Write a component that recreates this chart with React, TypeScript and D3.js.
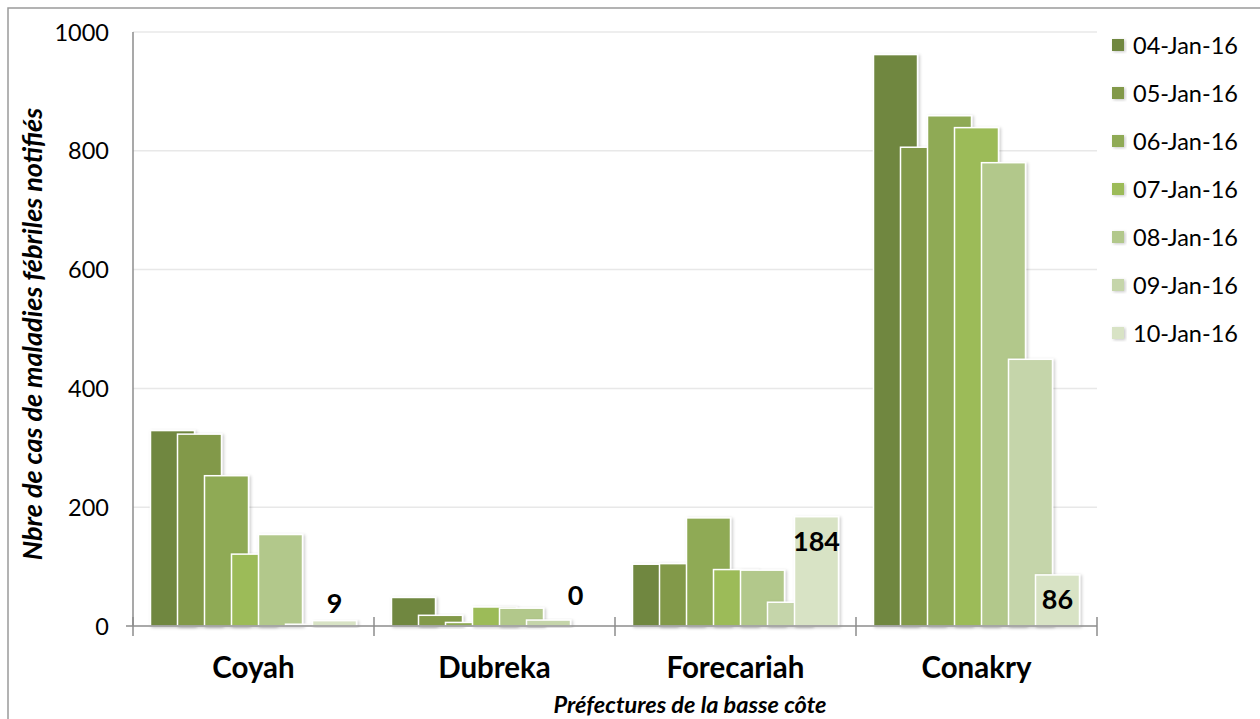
import React from "react";
import * as d3 from "d3";

const categories = ["Coyah", "Dubreka", "Forecariah", "Conakry"];
const seriesNames = ["04-Jan-16", "05-Jan-16", "06-Jan-16", "07-Jan-16", "08-Jan-16", "09-Jan-16", "10-Jan-16"];
const s04 = [329, 48, 104, 962];
const s05 = [323, 18, 105, 806];
const s06 = [253, 6, 182, 859];
const s07 = [121, 32, 95, 839];
const s08 = [154, 30, 94, 780];
const s09 = [3, 10, 40, 449];
const s10 = [9, 0, 184, 86];
const seriesValues = [s04, s05, s06, s07, s08, s09, s10];
const colors = ["#6f873f", "#82994a", "#8faa54", "#9cbb59", "#b2c88b", "#c5d5aa", "#d8e3c5"];
const yTicks = [0, 200, 400, 600, 800, 1000];
const labeledSeries = 6;

const FONT = "Lato, 'Open Sans', sans-serif";

export default function App() {
  const W = 1260, H = 719;
  const left = 133, right = 1097, top = 32, bottom = 626;
  const x = d3.scaleBand<string>().domain(categories).range([left, right]).paddingInner(0).paddingOuter(0);
  const y = d3.scaleLinear().domain([0, 1000]).range([bottom, top]);
  const bw = x.bandwidth();
  const groupPad = 17.5;
  const barW = 44;
  const step = (bw - 2 * groupPad - barW) / (seriesNames.length - 1);
  const bars: JSX.Element[] = [];
  const labels: JSX.Element[] = [];
  categories.forEach((c, ci) => {
    const x0 = (x(c) as number) + groupPad;
    seriesValues.forEach((vals, si) => {
      const v = vals[ci];
      const bx = x0 + si * step;
      const by = y(v);
      bars.push(
        <rect key={`b${ci}-${si}`} x={bx} y={by} width={barW} height={Math.max(0, y(0) - by)}
          fill={colors[si]} stroke="#ffffff" strokeWidth={1.5} filter="url(#sh)" />
      );
      if (si === labeledSeries) {
        const inside = y(0) - by > 45;
        const ly = inside ? by + 34 : y(0) - (v === 0 ? 21 : 13);
        labels.push(
          <text key={`l${ci}`} x={bx + barW / 2} y={ly} textAnchor="middle" fontFamily={FONT}
            fontWeight={700} fontSize={27} fill="#000">{v}</text>
        );
      }
    });
  });

  return (
    <svg width={W} height={H} style={{ position: "absolute", left: 0, top: 0, background: "#fff" }}>
      <defs>
        <filter id="sh" x="-20%" y="-20%" width="140%" height="140%">
          <feDropShadow dx="1.5" dy="1" stdDeviation="1.5" floodColor="#000" floodOpacity="0.22" />
        </filter>
      </defs>
      <rect x={8} y={8} width={1400} height={900} fill="#fff" stroke="#9a9a9a" strokeWidth={1.5} />
      {yTicks.filter((t) => t > 0).map((t) => (
        <line key={`g${t}`} x1={left} x2={right} y1={y(t)} y2={y(t)} stroke="#e8e8e8" strokeWidth={1.5} />
      ))}
      {yTicks.map((t) => (
        <text key={`t${t}`} x={109} y={y(t) + 8.5} textAnchor="end" fontFamily={FONT} fontSize={23.5} fill="#000">{t}</text>
      ))}
      <line x1={left} x2={left} y1={top} y2={bottom} stroke="#8c8c8c" strokeWidth={1.5} />
      <line x1={126} x2={left} y1={bottom} y2={bottom} stroke="#8c8c8c" strokeWidth={1.5} />
      {bars}
      <line x1={left} x2={right} y1={bottom} y2={bottom} stroke="#8c8c8c" strokeWidth={1.5} />
      {[...categories.map((c) => x(c) as number), right].map((tx, i) => (
        <line key={`xt${i}`} x1={tx} x2={tx} y1={bottom - 9} y2={bottom + 10} stroke="#8c8c8c" strokeWidth={1.5} />
      ))}
      {labels}
      {categories.map((c) => (
        <text key={`c${c}`} x={(x(c) as number) + bw / 2} y={678} textAnchor="middle" fontFamily={FONT}
          fontWeight={700} fontSize={29.5} fill="#000">{c}</text>
      ))}
      <text x={690} y={713} textAnchor="middle" fontFamily={FONT} fontWeight={700} fontStyle="italic" fontSize={23.5} fill="#000">
        Préfectures de la basse côte
      </text>
      <text transform={`translate(42,334) rotate(-90)`} textAnchor="middle" fontFamily={FONT} fontWeight={700}
        fontStyle="italic" fontSize={27} fill="#000">
        Nbre de cas de maladies fébriles notifiés
      </text>
      {seriesNames.map((s, i) => (
        <g key={`lg${i}`} transform={`translate(1112,${45 + i * 48})`}>
          <rect x={0} y={-6} width={12} height={12} fill={colors[i]} filter="url(#sh)" />
          <text x={21} y={8.5} fontFamily={FONT} fontSize={23.5} fill="#000">{s}</text>
        </g>
      ))}
    </svg>
  );
}
